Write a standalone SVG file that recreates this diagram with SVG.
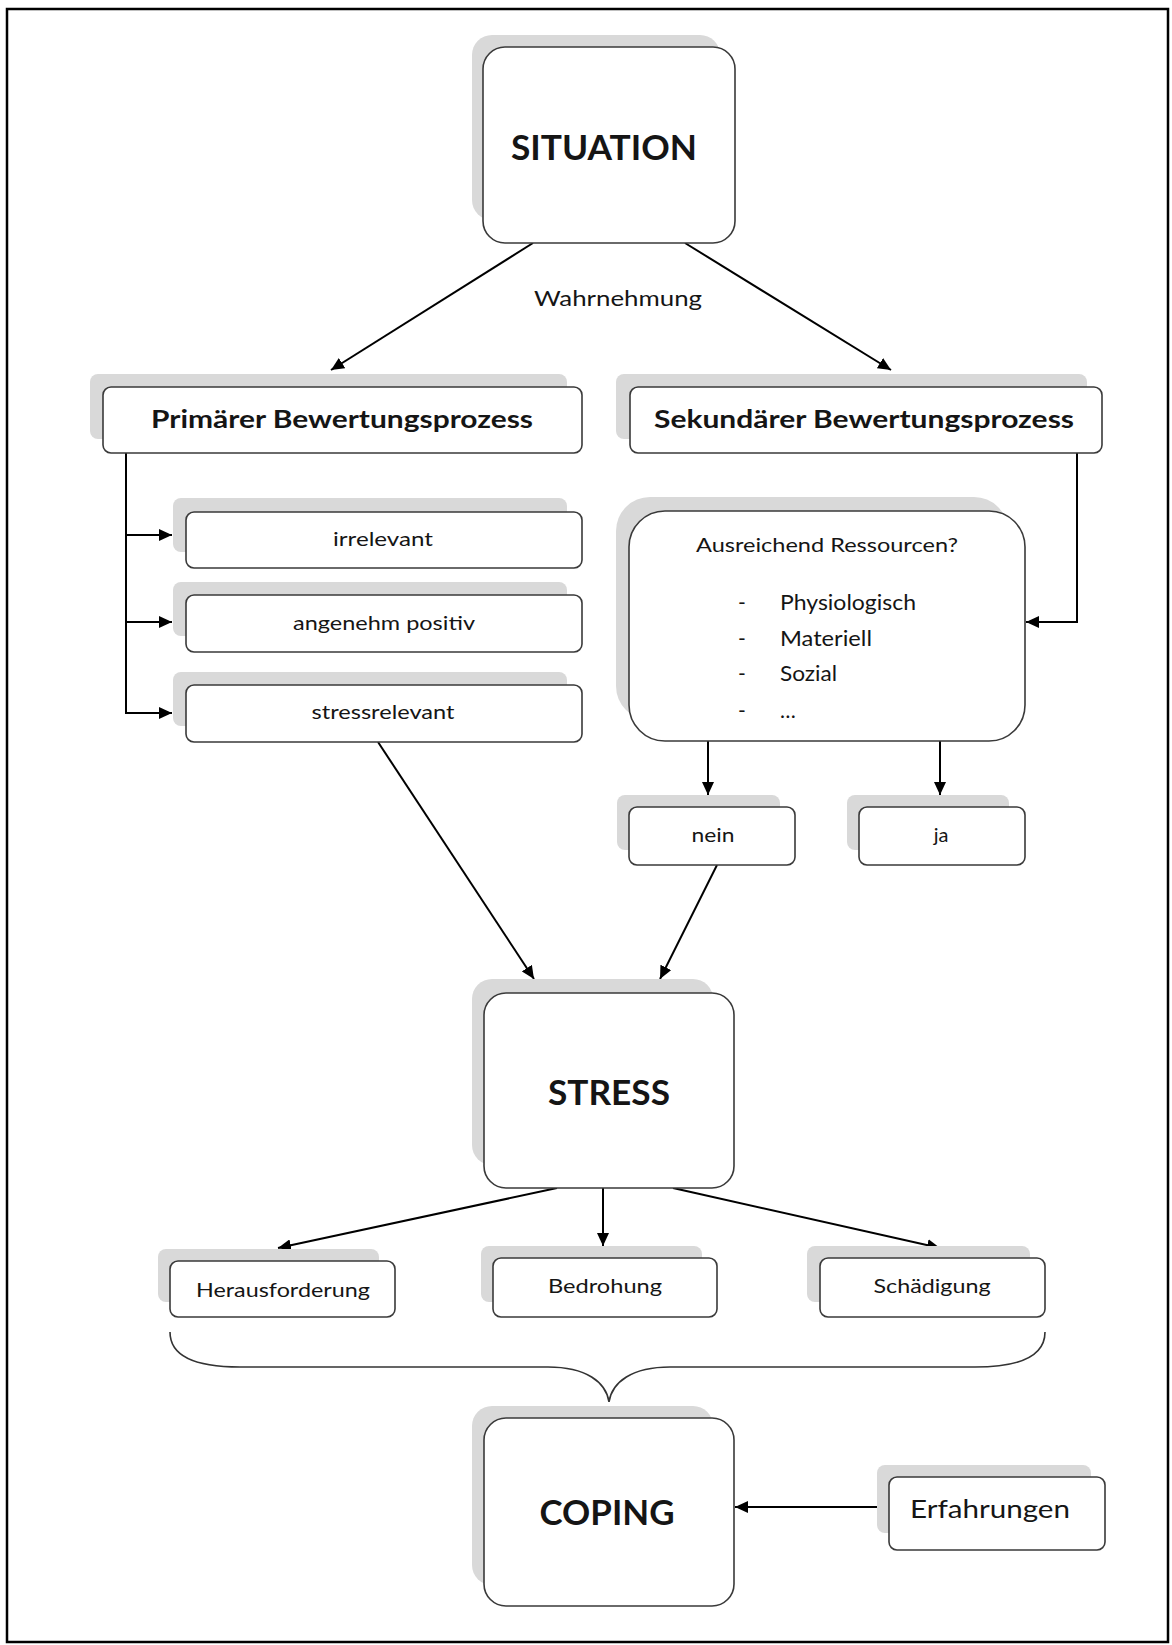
<svg xmlns="http://www.w3.org/2000/svg" width="1172" height="1645" viewBox="0 0 1172 1645">
<style>
.sh{fill:#d9d9d9;stroke:none}
.bx{fill:#fff;stroke:#3a3a3a;stroke-width:1.6}
.t{font-family:Lato,"Open Sans","Liberation Sans",sans-serif;fill:#151515}
.big{font-size:34px;font-weight:bold}
.hd{font-size:24px;font-weight:bold}
.sm{font-size:20px}
.md{font-size:21px}
.c{stroke:#000;stroke-width:2;fill:none}
</style>
<defs>
<marker id="ah" markerUnits="userSpaceOnUse" markerWidth="14" markerHeight="12" refX="13" refY="6" orient="auto">
<path d="M0,0 L13,6 L0,12 z" fill="#000"/>
</marker>
</defs>
<rect x="7" y="9" width="1161" height="1633" fill="#fff" stroke="#000" stroke-width="2.5"/>

<g id="connectors">
<line class="c" x1="533" y1="243" x2="331" y2="370" marker-end="url(#ah)"/>
<line class="c" x1="685" y1="243" x2="891" y2="370" marker-end="url(#ah)"/>
<polyline class="c" points="126,453 126,713"/>
<line class="c" x1="126" y1="535" x2="172" y2="535" marker-end="url(#ah)"/>
<line class="c" x1="126" y1="622" x2="172" y2="622" marker-end="url(#ah)"/>
<line class="c" x1="125" y1="713" x2="172" y2="713" marker-end="url(#ah)"/>
<polyline class="c" points="1077,453 1077,622 1026,622" marker-end="url(#ah)"/>
<line class="c" x1="708" y1="741" x2="708" y2="795" marker-end="url(#ah)"/>
<line class="c" x1="940" y1="741" x2="940" y2="795" marker-end="url(#ah)"/>
<line class="c" x1="378" y1="742" x2="534" y2="979" marker-end="url(#ah)"/>
<line class="c" x1="717" y1="865" x2="660" y2="979" marker-end="url(#ah)"/>
<line class="c" x1="557" y1="1188" x2="278" y2="1248" marker-end="url(#ah)"/>
<line class="c" x1="603" y1="1188" x2="603" y2="1246" marker-end="url(#ah)"/>
<line class="c" x1="673" y1="1188" x2="940" y2="1248" marker-end="url(#ah)"/>
<line class="c" x1="877" y1="1507" x2="735" y2="1507" marker-end="url(#ah)"/>
<path d="M170,1332 C170,1356 196,1367 240,1367 L548,1367 C586,1367 606,1382 609,1402 C612,1382 632,1367 670,1367 L975,1367 C1020,1367 1045,1356 1045,1332" fill="none" stroke="#333" stroke-width="1.6"/>
</g>

<g id="situation">
<rect class="sh" x="472" y="35" width="248" height="185" rx="20"/>
<rect class="bx" x="483" y="47" width="252" height="196" rx="22"/>
<text class="t big" x="604" y="160" text-anchor="middle" textLength="186" lengthAdjust="spacingAndGlyphs">SITUATION</text>
</g>

<text id="wahrnehmung" class="t md" x="618" y="306" text-anchor="middle" textLength="168" lengthAdjust="spacingAndGlyphs">Wahrnehmung</text>

<g id="primaer">
<rect class="sh" x="90" y="374" width="477" height="65" rx="8"/>
<rect class="bx" x="103" y="387" width="479" height="66" rx="8"/>
<text class="t hd" x="342" y="428" text-anchor="middle" textLength="382" lengthAdjust="spacingAndGlyphs">Primärer Bewertungsprozess</text>
</g>

<g id="sekundaer">
<rect class="sh" x="616" y="374" width="471" height="65" rx="8"/>
<rect class="bx" x="630" y="387" width="472" height="66" rx="8"/>
<text class="t hd" x="864" y="428" text-anchor="middle" textLength="420" lengthAdjust="spacingAndGlyphs">Sekundärer Bewertungsprozess</text>
</g>

<g id="irrelevant">
<rect class="sh" x="173" y="498" width="394" height="54" rx="8"/>
<rect class="bx" x="186" y="512" width="396" height="56" rx="8"/>
<text class="t sm" x="383" y="546" text-anchor="middle" textLength="100" lengthAdjust="spacingAndGlyphs">irrelevant</text>
</g>

<g id="angenehm">
<rect class="sh" x="173" y="582" width="394" height="54" rx="8"/>
<rect class="bx" x="186" y="595" width="396" height="57" rx="8"/>
<text class="t sm" x="384" y="630" text-anchor="middle" textLength="182" lengthAdjust="spacingAndGlyphs">angenehm positiv</text>
</g>

<g id="stressrelevant">
<rect class="sh" x="173" y="672" width="394" height="54" rx="8"/>
<rect class="bx" x="186" y="685" width="396" height="57" rx="8"/>
<text class="t sm" x="383" y="719" text-anchor="middle" textLength="143" lengthAdjust="spacingAndGlyphs">stressrelevant</text>
</g>

<g id="ressourcen">
<rect class="sh" x="616" y="497" width="392" height="223" rx="34"/>
<rect class="bx" x="629" y="511" width="396" height="230" rx="36"/>
<text class="t sm" x="827" y="552" text-anchor="middle" textLength="262" lengthAdjust="spacingAndGlyphs">Ausreichend Ressourcen?</text>
<text class="t md" x="742" y="610" text-anchor="middle">-</text>
<text class="t md" x="780" y="610" textLength="136" lengthAdjust="spacingAndGlyphs">Physiologisch</text>
<text class="t md" x="742" y="646" text-anchor="middle">-</text>
<text class="t md" x="780" y="646" textLength="92" lengthAdjust="spacingAndGlyphs">Materiell</text>
<text class="t md" x="742" y="681" text-anchor="middle">-</text>
<text class="t md" x="780" y="681" textLength="57" lengthAdjust="spacingAndGlyphs">Sozial</text>
<text class="t md" x="742" y="718" text-anchor="middle">-</text>
<text class="t md" x="780" y="718">…</text>
</g>

<g id="nein">
<rect class="sh" x="617" y="795" width="163" height="55" rx="8"/>
<rect class="bx" x="629" y="807" width="166" height="58" rx="8"/>
<text class="t sm" x="713" y="842" text-anchor="middle" textLength="43" lengthAdjust="spacingAndGlyphs">nein</text>
</g>

<g id="ja">
<rect class="sh" x="847" y="795" width="162" height="55" rx="8"/>
<rect class="bx" x="859" y="807" width="166" height="58" rx="8"/>
<text class="t sm" x="941" y="842" text-anchor="middle">ja</text>
</g>

<g id="stress">
<rect class="sh" x="472" y="979" width="241" height="186" rx="20"/>
<rect class="bx" x="484" y="993" width="250" height="195" rx="22"/>
<text class="t big" x="609" y="1105" text-anchor="middle" textLength="122" lengthAdjust="spacingAndGlyphs">STRESS</text>
</g>

<g id="herausforderung">
<rect class="sh" x="158" y="1249" width="221" height="53" rx="8"/>
<rect class="bx" x="170" y="1261" width="225" height="56" rx="8"/>
<text class="t sm" x="283" y="1297" text-anchor="middle" textLength="174" lengthAdjust="spacingAndGlyphs">Herausforderung</text>
</g>

<g id="bedrohung">
<rect class="sh" x="481" y="1246" width="221" height="56" rx="8"/>
<rect class="bx" x="493" y="1258" width="224" height="59" rx="8"/>
<text class="t sm" x="605" y="1293" text-anchor="middle" textLength="114" lengthAdjust="spacingAndGlyphs">Bedrohung</text>
</g>

<g id="schaedigung">
<rect class="sh" x="807" y="1246" width="223" height="56" rx="8"/>
<rect class="bx" x="820" y="1258" width="225" height="59" rx="8"/>
<text class="t sm" x="932" y="1293" text-anchor="middle" textLength="117" lengthAdjust="spacingAndGlyphs">Schädigung</text>
</g>

<g id="coping">
<rect class="sh" x="472" y="1406" width="241" height="179" rx="20"/>
<rect class="bx" x="484" y="1418" width="250" height="188" rx="22"/>
<text class="t big" x="607" y="1525" text-anchor="middle" textLength="135" lengthAdjust="spacingAndGlyphs">COPING</text>
</g>

<g id="erfahrungen">
<rect class="sh" x="877" y="1465" width="214" height="68" rx="8"/>
<rect class="bx" x="889" y="1477" width="216" height="73" rx="8"/>
<text class="t" font-size="25" x="990" y="1518" text-anchor="middle" textLength="160" lengthAdjust="spacingAndGlyphs">Erfahrungen</text>
</g>
</svg>
